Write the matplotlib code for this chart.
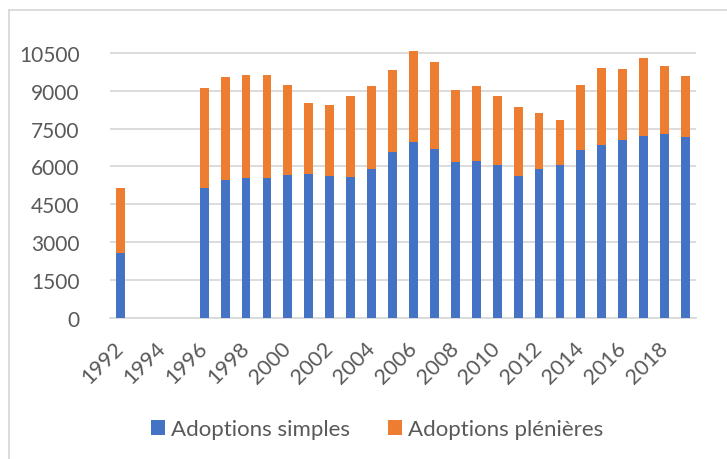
import matplotlib.pyplot as plt
from matplotlib.lines import Line2D
from matplotlib.transforms import ScaledTranslation

years = list(range(1992, 2020))
simples = [2570, None, None, None, 5160, 5470, 5540, 5560, 5670, 5710, 5640, 5600, 5900,
           6590, 6980, 6700, 6190, 6220, 6040, 5640, 5900, 6060, 6660, 6830, 7060, 7210,
           7290, 7170]
totals = [5150, None, None, None, 9110, 9540, 9620, 9640, 9220, 8520, 8430, 8800, 9190,
          9830, 10580, 10150, 9030, 9170, 8790, 8350, 8130, 7830, 9230, 9910, 9870, 10290,
          9960, 9570]
tick_years = list(range(1992, 2019, 2))
y_ticks = [0, 1500, 3000, 4500, 6000, 7500, 9000, 10500]

blue = '#4472C4'
orange = '#ED7D31'
grey_text = '#595959'
grid_col = '#D9D9D9'

plt.rcParams['font.family'] = ['Lato', 'DejaVu Sans']

x, s, p = [], [], []
for yr, a, t in zip(years, simples, totals):
    if a is None:
        continue
    x.append(yr)
    s.append(a)
    p.append(t - a)

fig = plt.figure(figsize=(7.27, 4.6), dpi=100)
ax = fig.add_axes([110 / 727, 1 - 319 / 460, 586 / 727, 269 / 460])

ax.bar(x, s, width=0.42, color=blue, label='Adoptions simples', zorder=3)
ax.bar(x, p, bottom=s, width=0.42, color=orange, label='Adoptions plénières', zorder=3)

ax.set_xlim(1991.5, 2019.5)
ax.set_ylim(0, 10650)
ax.set_yticks(y_ticks)
ax.set_yticklabels([str(v) for v in y_ticks], fontsize=15, color=grey_text)
ax.set_xticks(tick_years)
ax.set_xticklabels([str(v) for v in tick_years], fontsize=15.5, color=grey_text,
                   rotation=45, ha='right', va='center', rotation_mode='anchor')
shift = ScaledTranslation(5 / 100, 0, fig.dpi_scale_trans)
for lab in ax.get_xticklabels():
    lab.set_transform(lab.get_transform() + shift)
ax.tick_params(axis='y', length=0, pad=22)
ax.tick_params(axis='x', length=0, pad=19)
ax.grid(axis='y', color=grid_col, lw=1.3, zorder=0)
for side in ['top', 'right', 'left']:
    ax.spines[side].set_visible(False)
ax.spines['bottom'].set_color(grid_col)
ax.spines['bottom'].set_linewidth(1.3)

leg = fig.legend(loc='center', bbox_to_anchor=(377 / 727, 1 - 430 / 460), ncol=2,
                 frameon=False, fontsize=16, handlelength=0.65, handleheight=0.65,
                 handletextpad=0.27, columnspacing=1.7)
for txt in leg.get_texts():
    txt.set_color(grey_text)

# chart border (top and left visible in the crop)
fig.add_artist(Line2D([9 / 727, 9 / 727], [0, 1 - 11 / 460], color=grid_col, lw=1.3))
fig.add_artist(Line2D([9 / 727, 1], [1 - 11 / 460, 1 - 11 / 460], color=grid_col, lw=1.3))

fig.savefig('out.png', dpi=100)
